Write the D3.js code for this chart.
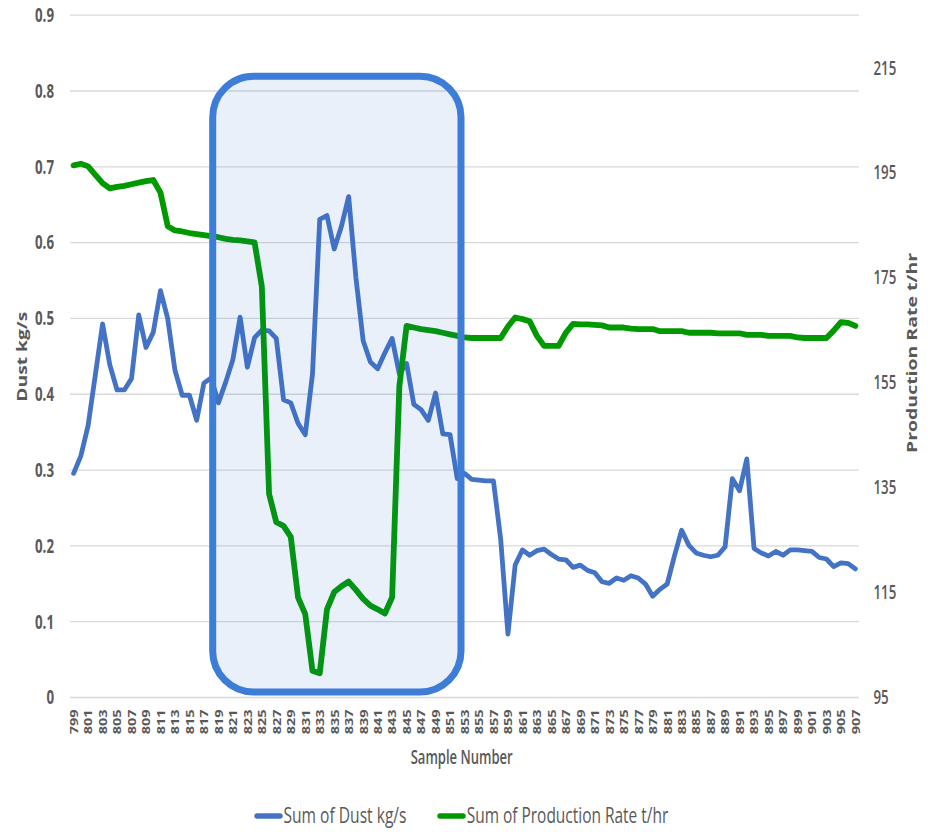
<!DOCTYPE html>
<html>
<head>
<meta charset="utf-8">
<script src="https://cdn.jsdelivr.net/npm/d3@7"></script>
<style>
  html, body { margin: 0; padding: 0; background: #fff; }
  svg { display: block; }
</style>
</head>
<body>
<svg id="chart" width="928" height="832"></svg>
<script>
// ---- data -------------------------------------------------------------
const samples = [
  799, 800, 801, 802, 803, 804, 805, 806, 807, 808, 809, 810, 811, 812, 813, 814, 815, 816, 817, 818,
  819, 820, 821, 822, 823, 824, 825, 826, 827, 828, 829, 830, 831, 832, 833, 834, 835, 836, 837, 838,
  839, 840, 841, 842, 843, 844, 845, 846, 847, 848, 849, 850, 851, 852, 853, 854, 855, 856, 857, 858,
  859, 860, 861, 862, 863, 864, 865, 866, 867, 868, 869, 870, 871, 872, 873, 874, 875, 876, 877, 878,
  879, 880, 881, 882, 883, 884, 885, 886, 887, 888, 889, 890, 891, 892, 893, 894, 895, 896, 897, 898,
  899, 900, 901, 902, 903, 904, 905, 906, 907
];

const dustKgS = [
  0.295, 0.318, 0.358, 0.425, 0.492, 0.438, 0.405, 0.405, 0.420, 0.504, 0.461, 0.481, 0.536, 0.499, 0.431, 0.398, 0.398, 0.365, 0.414, 0.421,
  0.388, 0.415, 0.445, 0.501, 0.435, 0.474, 0.484, 0.483, 0.473, 0.392, 0.388, 0.361, 0.346, 0.426, 0.630, 0.635, 0.591, 0.621, 0.660, 0.553,
  0.470, 0.442, 0.433, 0.454, 0.473, 0.426, 0.440, 0.386, 0.379, 0.365, 0.401, 0.347, 0.346, 0.288, 0.295, 0.287, 0.286, 0.285, 0.285, 0.208,
  0.083, 0.174, 0.194, 0.187, 0.193, 0.195, 0.188, 0.182, 0.181, 0.171, 0.174, 0.167, 0.164, 0.152, 0.150, 0.157, 0.154, 0.160, 0.157, 0.149,
  0.133, 0.142, 0.149, 0.186, 0.220, 0.200, 0.190, 0.187, 0.185, 0.187, 0.198, 0.288, 0.272, 0.314, 0.196, 0.190, 0.186, 0.192, 0.187, 0.194,
  0.194, 0.193, 0.192, 0.184, 0.182, 0.172, 0.177, 0.176, 0.169
];

const productionTHr = [
  196.3, 196.6, 196.1, 194.5, 192.9, 191.9, 192.2, 192.4, 192.7, 193.0, 193.3, 193.5, 191.1, 184.7, 183.9, 183.7, 183.4, 183.2, 183.0, 182.8,
  182.6, 182.3, 182.1, 182.0, 181.8, 181.6, 173.2, 133.7, 128.3, 127.6, 125.5, 114.0, 110.8, 100.0, 99.5, 111.7, 115.0, 116.1, 117.0, 115.4,
  113.7, 112.4, 111.7, 110.9, 114.0, 154.2, 165.7, 165.4, 165.1, 164.9, 164.7, 164.4, 164.1, 163.8, 163.5, 163.4, 163.4, 163.4, 163.4, 163.4,
  165.6, 167.3, 167.0, 166.6, 163.8, 161.9, 161.9, 161.9, 164.4, 166.1, 166.0, 166.0, 165.9, 165.8, 165.4, 165.4, 165.4, 165.2, 165.1, 165.1,
  165.1, 164.7, 164.7, 164.7, 164.7, 164.4, 164.4, 164.4, 164.4, 164.3, 164.3, 164.3, 164.3, 164.0, 164.0, 164.0, 163.8, 163.8, 163.8, 163.8,
  163.5, 163.4, 163.4, 163.4, 163.4, 164.8, 166.4, 166.3, 165.7
];

const leftTicks = [0, 0.1, 0.2, 0.3, 0.4, 0.5, 0.6, 0.7, 0.8, 0.9];
const rightTicks = [95, 115, 135, 155, 175, 195, 215];
const xTickLabels = samples.filter(s => s % 2 === 1);
const seriesNames = ["Sum of Dust kg/s", "Sum of Production Rate t/hr"];
const xTitle = "Sample Number";
const leftTitle = "Dust kg/s";
const rightTitle = "Production Rate t/hr";

// ---- layout & scales --------------------------------------------------
const plot = { left: 70, right: 859, top: 14.7, bottom: 697 };
const textColor = "#595959";
const dustColor = "#4472C4";
const prodColor = "#009900";
const font = "'Open Sans', 'Liberation Sans', sans-serif";
const squeeze = 0.7; // horizontal squeeze applied to upright tick text

const svg = d3.select("#chart");

const x = d3.scalePoint().domain(samples).range([plot.left, plot.right]).padding(0.5);
const yL = d3.scaleLinear().domain([0, 0.9]).range([plot.bottom, plot.top]);
const yR = d3.scaleLinear().domain([95, 225]).range([plot.bottom, plot.top]);

// ---- gridlines --------------------------------------------------------
const grid = svg.append("g")
  .attr("transform", `translate(${plot.left},0)`)
  .call(d3.axisLeft(yL).tickValues(leftTicks).tickSize(-(plot.right - plot.left)).tickFormat(""));
grid.select(".domain").remove();
grid.selectAll(".tick line").attr("stroke", "#d9d9d9").attr("stroke-width", 1.3);

// ---- left axis labels -------------------------------------------------
const fmtLeft = d => d === 0 ? "0" : d3.format(".1f")(d);
const axL = svg.append("g")
  .attr("transform", `translate(${plot.left},0)`)
  .call(d3.axisLeft(yL).tickValues(leftTicks).tickSize(0).tickFormat(fmtLeft));
axL.select(".domain").remove();
axL.selectAll(".tick text")
  .attr("x", -16 / squeeze)
  .attr("dy", "0.36em")
  .attr("transform", `scale(${squeeze},1)`)
  .attr("fill", textColor)
  .style("font-family", font)
  .style("font-size", "19px")
  .style("font-weight", 700);

// ---- right axis labels ------------------------------------------------
const axR = svg.append("g")
  .attr("transform", `translate(${plot.right},0)`)
  .call(d3.axisRight(yR).tickValues(rightTicks).tickSize(0).tickFormat(d3.format("d")));
axR.select(".domain").remove();
axR.selectAll(".tick text")
  .attr("x", 14.5 / squeeze)
  .attr("dy", "0.36em")
  .attr("transform", `scale(${squeeze},1)`)
  .attr("fill", textColor)
  .style("font-family", font)
  .style("font-size", "19px")
  .style("font-weight", 600);

// ---- bottom axis (rotated sample labels) ------------------------------
const axB = svg.append("g")
  .attr("transform", `translate(0,${plot.bottom})`)
  .call(d3.axisBottom(x).tickValues(xTickLabels).tickSize(0));
axB.select(".domain").remove();
axB.selectAll(".tick text")
  .attr("transform", "scale(0.74,1) rotate(-90)")
  .attr("text-anchor", "end")
  .attr("x", -12.5)
  .attr("y", 0)
  .attr("dy", "0.36em")
  .attr("fill", textColor)
  .style("font-family", font)
  .style("font-size", "14.5px")
  .style("font-weight", 700);

// ---- series lines -----------------------------------------------------
const dustLine = d3.line().x((d, i) => x(samples[i])).y(d => yL(d));
const prodLine = d3.line().x((d, i) => x(samples[i])).y(d => yR(d));

svg.append("path")
  .datum(dustKgS)
  .attr("d", dustLine)
  .attr("fill", "none")
  .attr("stroke", dustColor)
  .attr("stroke-width", 4.8)
  .attr("stroke-linejoin", "round")
  .attr("stroke-linecap", "round");

svg.append("path")
  .datum(productionTHr)
  .attr("d", prodLine)
  .attr("fill", "none")
  .attr("stroke", prodColor)
  .attr("stroke-width", 5.8)
  .attr("stroke-linejoin", "round")
  .attr("stroke-linecap", "round");

// ---- highlighted region (samples 819-851, rounded box) -----------------
svg.append("rect")
  .attr("x", 212.7).attr("y", 76.3)
  .attr("width", 248.3).attr("height", 615.7)
  .attr("rx", 41).attr("ry", 41)
  .attr("fill", "#2369cd").attr("fill-opacity", 0.1)
  .attr("stroke", "#3d7dd8").attr("stroke-width", 7);

// ---- axis titles ------------------------------------------------------
svg.append("text")
  .attr("x", 461.7).attr("y", 764)
  .attr("text-anchor", "middle")
  .attr("textLength", 102).attr("lengthAdjust", "spacingAndGlyphs")
  .attr("fill", textColor)
  .style("font-family", font).style("font-size", "19.5px").style("font-weight", 600)
  .text(xTitle);

svg.append("text")
  .attr("transform", "translate(27.3,356.7) rotate(-90)")
  .attr("text-anchor", "middle")
  .attr("textLength", 90).attr("lengthAdjust", "spacingAndGlyphs")
  .attr("fill", textColor)
  .style("font-family", font).style("font-size", "14px").style("font-weight", 700)
  .text(leftTitle);

svg.append("text")
  .attr("transform", "translate(916.7,353) rotate(-90)")
  .attr("text-anchor", "middle")
  .attr("textLength", 200).attr("lengthAdjust", "spacingAndGlyphs")
  .attr("fill", textColor)
  .style("font-family", font).style("font-size", "15px").style("font-weight", 700)
  .text(rightTitle);

// ---- legend -----------------------------------------------------------
const legendItems = [
  { name: seriesNames[0], color: dustColor, x0: 257, textX: 283.5, len: 123 },
  { name: seriesNames[1], color: prodColor, x0: 440, textX: 466.7, len: 201.6 }
];
const lg = svg.append("g");
legendItems.forEach(it => {
  lg.append("line")
    .attr("x1", it.x0).attr("x2", it.x0 + 23)
    .attr("y1", 816).attr("y2", 816)
    .attr("stroke", it.color).attr("stroke-width", 5.5)
    .attr("stroke-linecap", "round");
  lg.append("text")
    .attr("x", it.textX).attr("y", 823)
    .attr("textLength", it.len).attr("lengthAdjust", "spacingAndGlyphs")
    .attr("fill", textColor)
    .style("font-family", font).style("font-size", "21px").style("font-weight", 500)
    .text(it.name);
});
</script>
</body>
</html>
